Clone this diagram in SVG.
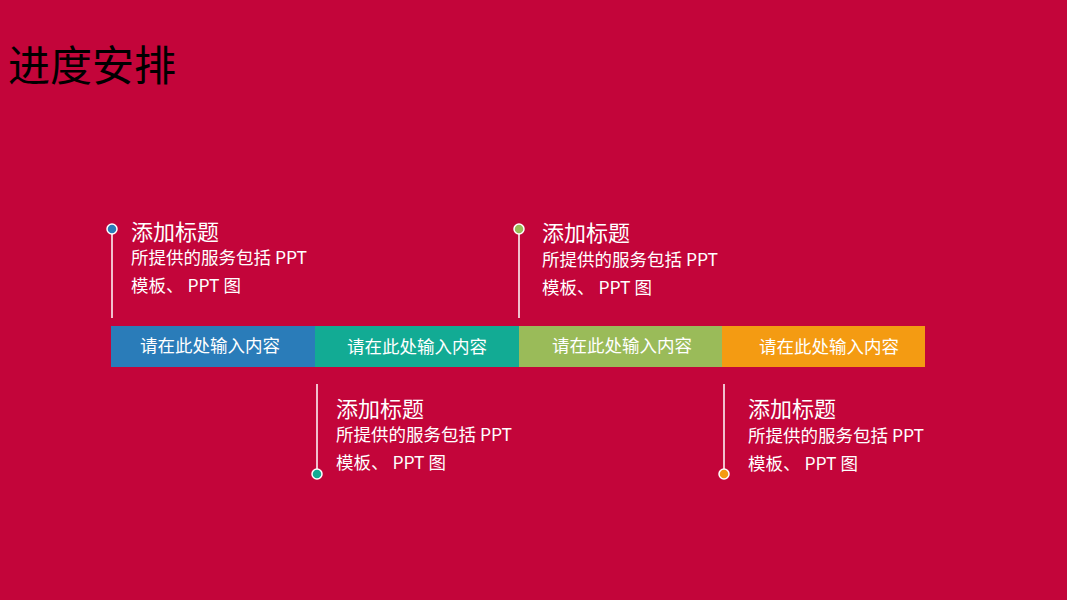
<svg xmlns="http://www.w3.org/2000/svg" width="1067" height="600" viewBox="0 0 1067 600">
<style>
.t{font-family:"Microsoft YaHei","Noto Sans CJK SC",sans-serif;fill:#fff}
.h{font-size:22px}
.b{font-size:17.5px}
.bar{font-size:17.5px;text-anchor:middle}
.ln{stroke:#fff;stroke-width:1.5}
.dot{stroke:#fff;stroke-width:1.5}
</style>
<rect width="1067" height="600" fill="#C3053A"/>
<text x="8" y="81" font-family="Noto Sans CJK SC, sans-serif" font-size="42" fill="#000">进度安排</text>
<g id="bar1"><rect x="111" y="326" width="204" height="41" fill="#2A7CB9"/><text class="t bar" x="210" y="352">请在此处输入内容</text></g>
<g id="bar2"><rect x="315" y="326" width="204" height="41" fill="#12AB94"/><text class="t bar" x="417" y="353">请在此处输入内容</text></g>
<g id="bar3"><rect x="519" y="326" width="203" height="41" fill="#9ABB59"/><text class="t bar" x="622" y="352">请在此处输入内容</text></g>
<g id="bar4"><rect x="722" y="326" width="203" height="41" fill="#F49B12"/><text class="t bar" x="829" y="353">请在此处输入内容</text></g>
<g id="connectors">
<line class="ln" x1="112" y1="234" x2="112" y2="318"/>
<line class="ln" x1="519" y1="234" x2="519" y2="318"/>
<line class="ln" x1="317" y1="384" x2="317" y2="469"/>
<line class="ln" x1="724" y1="384" x2="724" y2="469"/>
</g>
<g id="item1">
<circle class="dot" cx="112" cy="229" r="5" fill="#2A7CB9"/>
<text class="t h" x="131" y="240">添加标题</text>
<text class="t b" x="131" y="264">所提供的服务包括 PPT</text>
<text class="t b" x="131" y="292">模板、 PPT 图</text>
</g>
<g id="item2">
<circle class="dot" cx="317" cy="474" r="5" fill="#12AB94"/>
<text class="t h" x="336" y="417">添加标题</text>
<text class="t b" x="336" y="441">所提供的服务包括 PPT</text>
<text class="t b" x="336" y="469">模板、 PPT 图</text>
</g>
<g id="item3">
<circle class="dot" cx="519" cy="229" r="5" fill="#9ABB59"/>
<text class="t h" x="542" y="241">添加标题</text>
<text class="t b" x="542" y="266">所提供的服务包括 PPT</text>
<text class="t b" x="542" y="294">模板、 PPT 图</text>
</g>
<g id="item4">
<circle class="dot" cx="724" cy="474" r="5" fill="#F49B12"/>
<text class="t h" x="748" y="417">添加标题</text>
<text class="t b" x="748" y="442">所提供的服务包括 PPT</text>
<text class="t b" x="748" y="470">模板、 PPT 图</text>
</g>
</svg>
